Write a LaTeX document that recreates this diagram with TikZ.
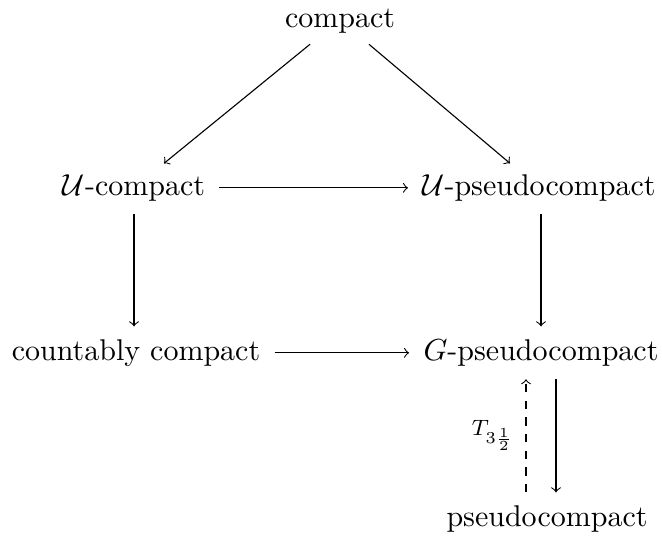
\documentclass[tikz,border=0pt]{standalone}
\usepackage{amsmath}
\begin{document}
\begin{tikzpicture}[x=0.36pt,y=-0.36pt,
    obj/.style={anchor=base,inner sep=3pt,text height=1.6ex,text depth=.4ex,
      font=\fontsize{10.8}{13}\selectfont},
    imp/.style={->,shorten <=2pt,shorten >=2pt},
    weak/.style={->,dashed,shorten <=2pt,shorten >=2pt}]
    \useasboundingbox (0,0) rectangle (662,538);

    \coordinate (c0) at (340, 27);
    \coordinate (c1) at (134, 195);
    \coordinate (c2) at (539, 195);
    \coordinate (c3) at (136, 360);
    \coordinate (c4) at (541, 360);
    \coordinate (c5) at (547, 526);

    \node [obj] (cpt) at (c0) {compact};
    \node [obj] (ucpt) at (c1) {$\mathcal{U}$-compact};
    \node [obj] (upseudo) at (c2) {$\mathcal{U}$-pseudocompact};
    \node [obj] (ccpt) at (c3) {countably compact};
    \node [obj] (gpseudo) at (c4) {$G$-pseudocompact};
    \node [obj] (pseudo) at (c5) {pseudocompact};

    \draw [imp] (cpt) -- (ucpt);
    \draw [imp] (cpt) -- (upseudo);
    \draw [imp] (ucpt) -- (upseudo);
    \draw [imp] (ucpt) -- (ucpt |- ccpt.north);
    \draw [imp] (gpseudo |- upseudo.south) -- (gpseudo);
    \draw [imp] (ccpt) -- (gpseudo);

    \draw [imp] ([xshift=5.4pt]gpseudo.south)
      -- ([xshift=5.4pt]gpseudo.south |- pseudo.north);
    \draw [weak] ([xshift=-5.4pt]gpseudo.south |- pseudo.north)
      -- ([xshift=-5.4pt]gpseudo.south)
      node [midway,left=1pt,font=\footnotesize] {$T_{3\frac{1}{2}}$};
  \end{tikzpicture}
\end{document}
